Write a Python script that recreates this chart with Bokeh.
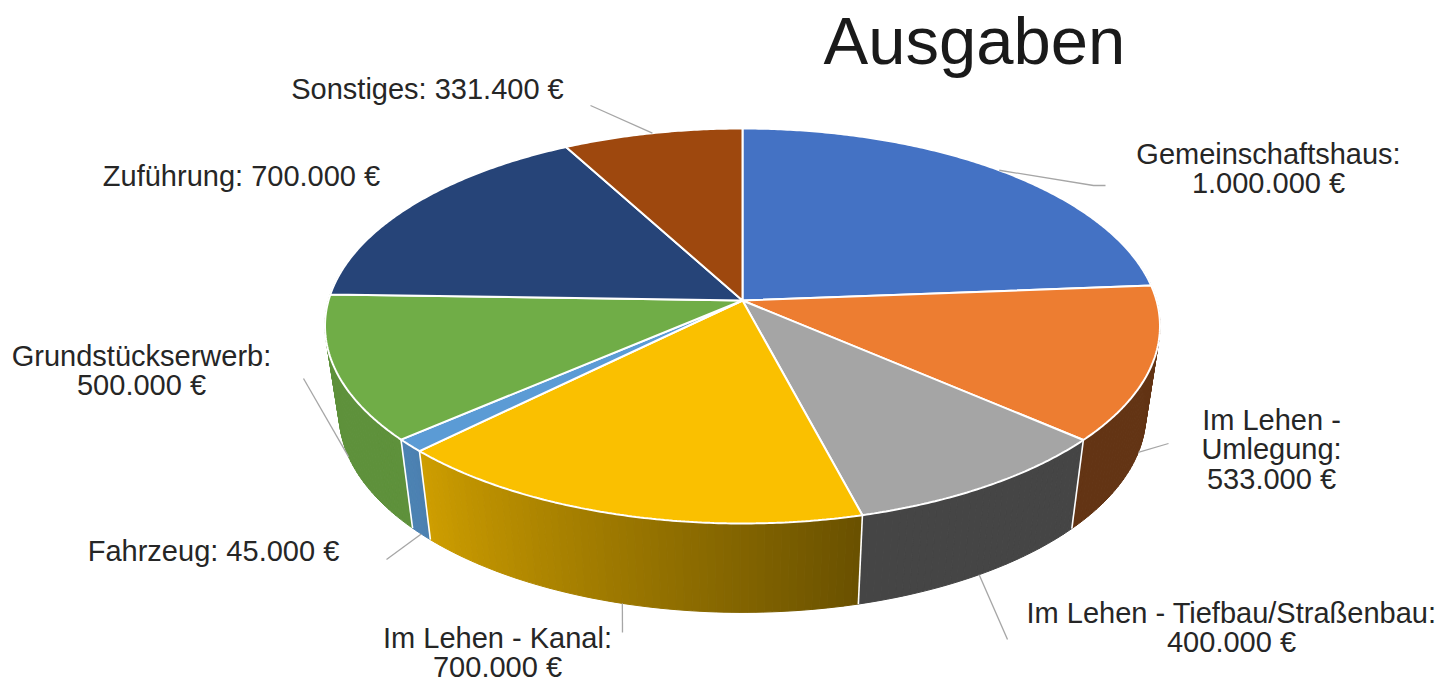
import numpy as np
from bokeh.plotting import figure
from bokeh.models import Range1d, ColumnDataSource
from bokeh.embed import file_html
from bokeh.resources import INLINE
from bokeh.core.properties import value

# ---------------- data ----------------
title_text = "Ausgaben"
categories = ["Gemeinschaftshaus", "Im Lehen - Umlegung", "Im Lehen - Tiefbau/Straßenbau",
              "Im Lehen - Kanal", "Fahrzeug", "Grundstückserwerb", "Zuführung", "Sonstiges"]
amounts = [1000000, 533000, 400000, 700000, 45000, 500000, 700000, 331400]
colors = ["#4472C4", "#ED7D31", "#A5A5A5", "#FAC000", "#5B9BD5", "#70AD47", "#264478", "#9E480E"]

# ---------------- layout (positions / styles) ----------------
W, H = 1444, 679
CX, CY = 742, 300            # apex of the pie on screen
RX_T, RY_T, PERSP = 414.0, 194.2, 0.129
CYB, RX_B, RY_B = 388.0, 400.0, 195.0
FONT = "Liberation Sans"
TXT_COLOR = "#262626"
LABEL_SIZE = 29
TITLE_SIZE = 67
LINE_STEP = 29.3
BASE_SHIFT = 0.4             # renderer places alphabetic baseline ~0.4em low
# label anchor (center x, first baseline y) and line-wrapping mode
label_pos = [(1268, 165), (1271, 431), (1231, 624), (497, 649),
             (213, 562), (141, 367), (241, 187), (427, 100)]
wrap_mode = ["two", "umlegung", "two", "two", "one", "two", "one", "one"]
leader_ends = [[(1093, 185), (1105, 185)], [(1168, 443)], [(1007, 639)], [(622, 632)],
               [(386, 559)], [(303, 378)], None, [(590, 105)]]


def fmt(v):
    return f"{v:,}".replace(",", ".") + " €"


def label_lines(cat, v, mode):
    if mode == "one":
        return [f"{cat}: {fmt(v)}"]
    if mode == "umlegung":
        a, b = cat.split(" - ")
        return [a + " -", b + ":", fmt(v)]
    return [cat + ":", fmt(v)]


def proj(theta, cy, rx, ry):
    t = np.radians(theta)
    u, v = np.sin(t), np.cos(t)
    d = 1 + PERSP * v
    return CX + rx * u / d, cy - ry * v / d


def top_pt(theta):
    return proj(np.asarray(theta, dtype=float), CY, RX_T, RY_T)


def bot_pt(theta):
    return proj(np.asarray(theta, dtype=float), CYB, RX_B, RY_B)


def shade(hexcol, f):
    h = hexcol.lstrip("#")
    r, g, b = (int(h[i:i + 2], 16) for i in (0, 2, 4))
    return "#%02x%02x%02x" % (int(r * f), int(g * f), int(b * f))


def wall_factor(theta):
    return 0.42 + 0.42 * np.clip((theta - 165.0) / 62.0, 0, 1)


total = float(sum(amounts))
angles = np.cumsum([0.0] + [a / total * 360.0 for a in amounts])

p = figure(width=W, height=H, output_backend="svg", toolbar_location=None,
           x_range=Range1d(0, W), y_range=Range1d(H, 0), min_border=0)
p.axis.visible = False
p.grid.visible = False
p.outline_line_color = None
p.background_fill_color = "white"
p.border_fill_color = "white"

# ---------------- walls (side of the cylinder) ----------------
strips = []
for i, col in enumerate(colors):
    a0, a1 = max(angles[i], 78.0), min(angles[i + 1], 282.0)
    if a1 <= a0:
        continue
    n = max(1, int(np.ceil((a1 - a0) / 1.0)))
    ts = np.linspace(a0, a1, n + 1)
    for k in range(n):
        t0, t1 = ts[k], ts[k + 1]
        x0, y0 = top_pt(t0)
        x1, y1 = top_pt(t1)
        bx0, by0 = bot_pt(t0)
        bx1, by1 = bot_pt(t1)
        tm = 0.5 * (t0 + t1)
        c = shade(col, wall_factor(tm))
        strips.append((np.cos(np.radians(tm)), [x0, x1, bx1, bx0], [y0, y1, by1, by0], c))
strips.sort(key=lambda s: -s[0])
wsrc = ColumnDataSource(dict(xs=[s[1] for s in strips], ys=[s[2] for s in strips],
                             c=[s[3] for s in strips]))
p.patches("xs", "ys", source=wsrc, fill_color="c", line_color="c", line_width=1)

# white separators between the wall pieces
sx, sy = [], []
for a in angles[1:-1]:
    if 90 < a < 270:
        tx, ty = top_pt(a)
        bx, by = bot_pt(a)
        sx.append([float(tx), float(bx)])
        sy.append([float(ty), float(by)])
p.multi_line(sx, sy, line_color="white", line_width=1.6)

# ---------------- top faces ----------------
fx, fy = [], []
for i in range(len(amounts)):
    ts = np.linspace(angles[i], angles[i + 1], max(2, int((angles[i + 1] - angles[i]) / 0.5) + 1))
    ax, ay = top_pt(ts)
    fx.append([CX] + list(ax))
    fy.append([CY] + list(ay))
p.patches(fx, fy, fill_color=colors, line_color="white", line_width=2)

# ---------------- leader lines ----------------
lx, ly = [], []
for i, ends in enumerate(leader_ends):
    if ends is None:
        continue
    mid = 0.5 * (angles[i] + angles[i + 1])
    sxp, syp = (bot_pt(mid) if np.cos(np.radians(mid)) < 0 else top_pt(mid))
    lx.append([float(sxp)] + [e[0] for e in ends])
    ly.append([float(syp)] + [e[1] for e in ends])
p.multi_line(lx, ly, line_color="#A6A6A6", line_width=1.3)

# ---------------- labels ----------------
tx, ty, tt = [], [], []
for i, cat in enumerate(categories):
    lines = label_lines(cat, amounts[i], wrap_mode[i])
    x0, y0 = label_pos[i]
    for j, ln in enumerate(lines):
        tx.append(x0)
        ty.append(y0 + j * LINE_STEP - BASE_SHIFT * LABEL_SIZE)
        tt.append(ln)
p.text(tx, ty, text=tt, text_align="center", text_baseline="alphabetic",
       text_font=value(FONT), text_font_size=f"{LABEL_SIZE}px", text_color=TXT_COLOR)

p.text([974], [67 - BASE_SHIFT * TITLE_SIZE], text=[title_text], text_align="center",
       text_baseline="alphabetic", text_font=value(FONT),
       text_font_size=f"{TITLE_SIZE}px", text_color="#1a1a1a")

open("out.html", "w").write(file_html(p, INLINE))
